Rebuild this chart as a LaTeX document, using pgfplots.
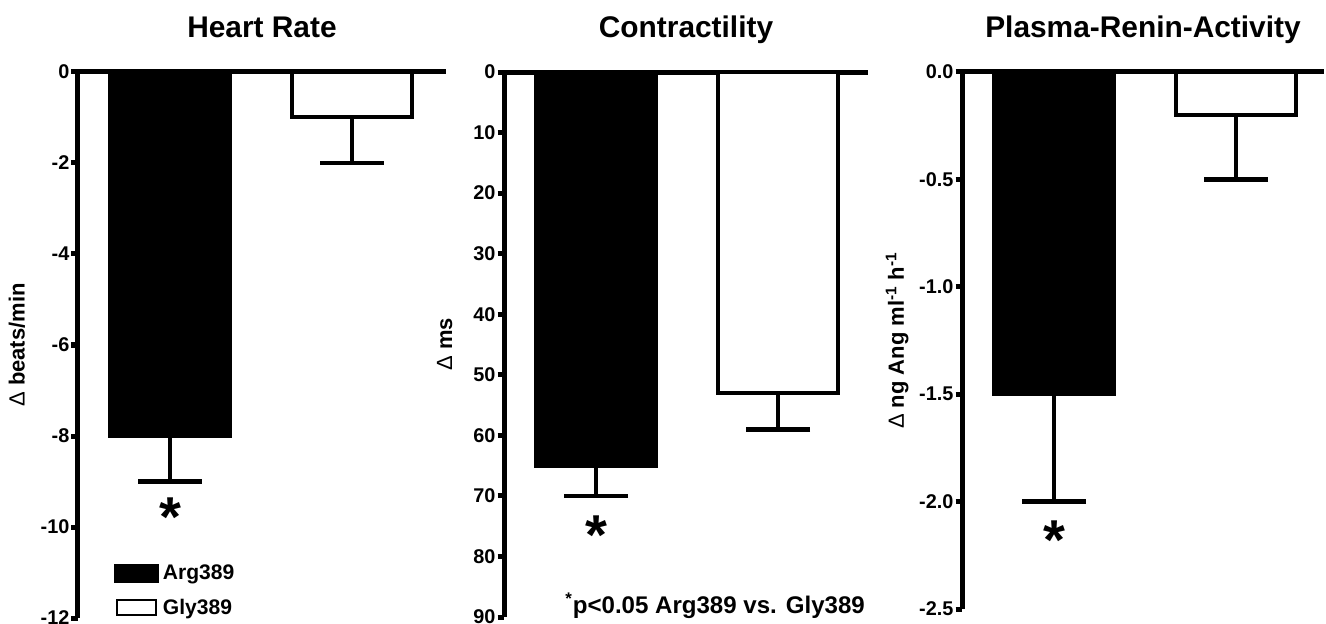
\documentclass[border=0pt]{standalone}
\usepackage{fontspec}
\setmainfont{Liberation Sans}
\usepackage{pgfplots}
\pgfplotsset{compat=1.18}

\tikzset{sigstar/.style={font=\fontsize{32}{32}\selectfont\bfseries, anchor=north, inner sep=0pt}}
\pgfplotsset{
  panel/.style={
    scale only axis, clip=false,
    axis x line*=top, axis y line*=left,
    axis line style={line width=0.1cm},
    xtick=\empty, xmin=0.4945,
    bar width=0.654,
    tick align=outside, major tick length=0.13cm,
    ytick style={line width=0.1cm, black},
    yticklabel style={font=\fontsize{11.3}{13}\selectfont\bfseries, inner xsep=1pt,
      /pgf/number format/assume math mode=true},
    title style={font=\fontsize{17}{20}\selectfont\bfseries,
      at={(axis description cs:0.5,1)}, anchor=base, yshift=0.48cm},
    ylabel style={font=\fontsize{12.5}{14}\selectfont\bfseries, anchor=center},
    error bars/y dir=minus, error bars/y explicit,
    error bars/error mark=|,
    error bars/error bar style={line width=0.09cm},
    error bars/error mark options={line width=0.09cm, mark size=0.64cm},
  },
  argbar/.style={ybar, fill=black, draw=black, line width=0.08cm,
    legend image code/.code={\fill[black] (0cm,-0.15cm) rectangle (0.82cm,0.15cm);}},
  glybar/.style={ybar, fill=white, draw=black, line width=0.08cm,
    legend image code/.code={\draw[black, fill=white, line width=0.04cm] (0.02cm,-0.15cm) rectangle (0.8cm,0.15cm);}},
}

\begin{document}
\begin{tikzpicture}
\useasboundingbox (0,0) rectangle (26.52,-12.48);

% Heart rate
\begin{axis}[panel,
  at={(1.56cm,-12.36cm)}, anchor=south west,
  width=7.36cm, height=10.92cm,
  xmax=2.5165, ymin=-12, ymax=0,
  ytick={0,-2,-4,-6,-8,-10,-12},
  title={Heart Rate},
  ylabel={\textmd{Δ} beats/min},
  ylabel style={at={(axis description cs:-0.166,0.5)}},
  legend style={at={(axis description cs:0.098,0.105)}, anchor=north west,
    draw=none, fill=none, inner sep=0pt, row sep=0.2cm,
    font=\fontsize{12}{14}\selectfont\bfseries,
    legend cell align=left},
]
\addplot[argbar] coordinates {(1,-8) +- (0,1)};
\addplot[glybar] coordinates {(2,-1) +- (0,1)};
\legend{Arg389, Gly389}
\node[sigstar] at (axis cs:1,-9.36) {*};
\end{axis}

% Contractility
\begin{axis}[panel,
  at={(10.08cm,-12.34cm)}, anchor=south west,
  width=7.28cm, height=10.9cm,
  xmax=2.4945, ymin=0, ymax=90, y dir=reverse,
  error bars/y dir=plus,
  ytick={0,10,...,90},
  title={Contractility},
  ylabel={\textmd{Δ} ms},
  ylabel style={at={(axis description cs:-0.163,0.5)}},
]
\addplot[argbar] coordinates {(1,65) +- (0,5)};
\addplot[glybar] coordinates {(2,53) +- (0,6)};
\node[sigstar] at (axis cs:1,73.2) {*};
\node[anchor=base west, inner sep=0pt, font=\fontsize{13.7}{15}\selectfont\bfseries]
  at (axis cs:0.83,89.4) {\textsuperscript{*}p<0.05 Arg389 vs. Gly389};
\end{axis}

% Plasma renin activity
\begin{axis}[panel,
  at={(19.24cm,-12.18cm)}, anchor=south west,
  width=7.24cm, height=10.74cm,
  xmax=2.4835, ymin=-2.5, ymax=0,
  ytick={0,-0.5,-1,-1.5,-2,-2.5},
  yticklabel style={/pgf/number format/.cd, fixed, fixed zerofill, precision=1},
  title={Plasma-Renin-Activity},
  ylabel={\textmd{Δ} ng Ang ml\textsuperscript{-1} h\textsuperscript{-1}},
  ylabel style={at={(axis description cs:-0.179,0.5)}},
]
\addplot[argbar] coordinates {(1,-1.5) +- (0,0.5)};
\addplot[glybar] coordinates {(2,-0.2) +- (0,0.3)};
\node[sigstar] at (axis cs:1,-2.09) {*};
\end{axis}
\end{tikzpicture}
\end{document}
